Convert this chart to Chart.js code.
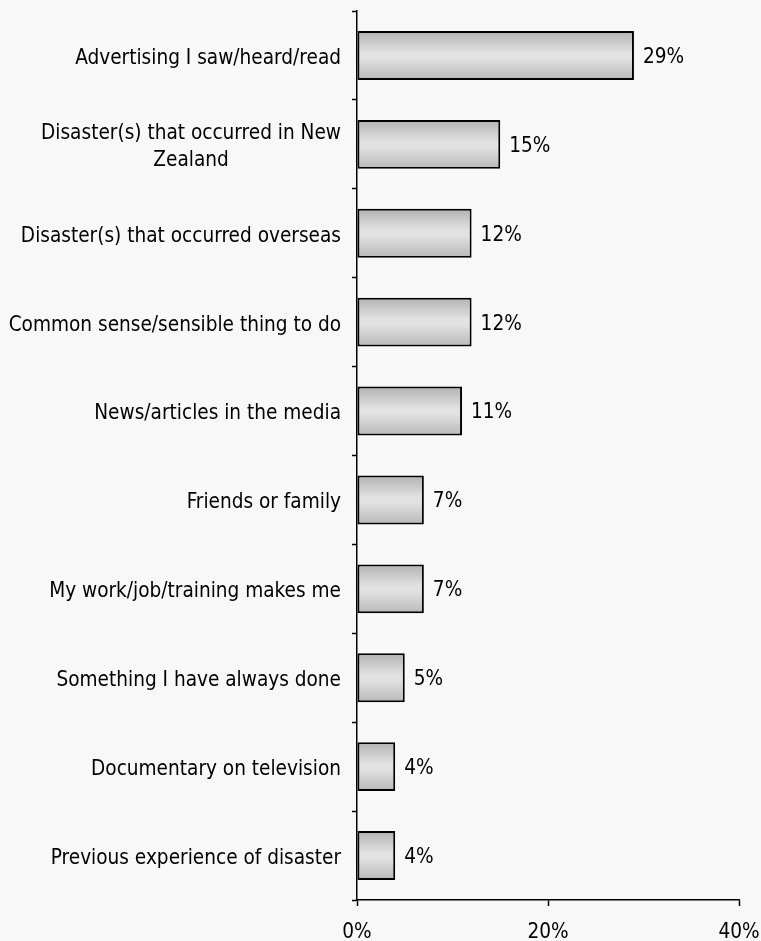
<!DOCTYPE html>
<html>
<head>
<meta charset="utf-8">
<title>Reasons</title>
<script src="https://cdn.jsdelivr.net/npm/chart.js@4.4.1/dist/chart.umd.min.js"></script>
<style>
  html, body { margin: 0; padding: 0; background: #f8f8f8; }
  #wrap { width: 761px; height: 941px; }
</style>
</head>
<body>
<div id="wrap"><canvas id="chart"></canvas></div>
<script>
// reasons and share of respondents (%)
const categories = [
  "Advertising I saw/heard/read",
  ["Disaster(s) that occurred in New", "Zealand"],
  "Disaster(s) that occurred overseas",
  "Common sense/sensible thing to do",
  "News/articles in the media",
  "Friends or family",
  "My work/job/training makes me",
  "Something I have always done",
  "Documentary on television",
  "Previous experience of disaster"
];
const percentages = [29, 15, 12, 12, 11, 7, 7, 5, 4, 4];
const axisTicks = [0, 20, 40];

const FONT = "Tahoma, 'DejaVu Sans Condensed', 'DejaVu Sans', sans-serif";
const FONT_SIZE = 20.6;
const LINE_GAP = 27;
const LABEL_PAD = 11;
const LABEL_SHIFT = 3;
const Y_TICK = 5;
const BAR_PCT = 0.55;

// vertical grey shading across each bar
function barFill(context) {
  const chart = context.chart;
  const yScale = chart.scales.y;
  if (!yScale || !chart.chartArea) return "#d8d8d8";
  const c = yScale.getPixelForValue(context.dataIndex);
  const half = (yScale.height / categories.length) * BAR_PCT / 2;
  const g = chart.ctx.createLinearGradient(0, c - half, 0, c + half);
  g.addColorStop(0, "#b2b2b2");
  g.addColorStop(0.45, "#e2e2e2");
  g.addColorStop(0.55, "#e2e2e2");
  g.addColorStop(1, "#b8b8b8");
  return g;
}

// percentages next to bar ends, and two-line category names centred as a block
const extraText = {
  id: "extraText",
  afterDatasetsDraw(chart) {
    const ctx = chart.ctx;
    const meta = chart.getDatasetMeta(0);
    const yScale = chart.scales.y;
    ctx.save();
    ctx.font = FONT_SIZE + "px " + FONT;
    ctx.fillStyle = "#000";
    ctx.textBaseline = "middle";
    ctx.textAlign = "left";
    meta.data.forEach((bar, i) => {
      ctx.fillText(percentages[i] + "%", bar.x + 9, bar.y + 2);
    });

    const right = yScale.right - Y_TICK - LABEL_PAD;
    categories.forEach((label, i) => {
      if (!Array.isArray(label)) return;
      const widest = Math.max(...label.map(l => ctx.measureText(l).width));
      const cx = right - widest / 2;
      const cy = yScale.getPixelForValue(i) + LABEL_SHIFT;
      const y0 = cy - (label.length - 1) * LINE_GAP / 2;
      ctx.textAlign = "center";
      label.forEach((line, k) => ctx.fillText(line, cx, y0 + k * LINE_GAP));
    });
    ctx.restore();
  }
};

new Chart(document.getElementById("chart"), {
  type: "bar",
  data: {
    labels: categories,
    datasets: [{
      data: percentages,
      backgroundColor: barFill,
      borderColor: "#000",
      borderWidth: 2,
      borderSkipped: false,
      barPercentage: BAR_PCT,
      categoryPercentage: 1
    }]
  },
  options: {
    indexAxis: "y",
    responsive: true,
    maintainAspectRatio: false,
    animation: false,
    layout: { padding: { top: 11, right: 0, left: 0, bottom: 0 } },
    plugins: {
      legend: { display: false },
      tooltip: { enabled: false }
    },
    scales: {
      x: {
        min: 0,
        max: 40,
        afterBuildTicks: (scale) => { scale.ticks = axisTicks.map(v => ({ value: v })); },
        afterFit: (scale) => {
          scale.height = 41;
          scale.paddingLeft = 0;
          scale.paddingRight = 22;
        },
        border: { color: "#000", width: 1.5 },
        grid: { drawOnChartArea: false, drawTicks: true, tickLength: 6, tickColor: "#000", tickWidth: 1.5 },
        ticks: {
          color: "#000",
          padding: 14,
          font: { family: FONT, size: FONT_SIZE },
          callback: (v) => v + "%"
        }
      },
      y: {
        afterFit: (scale) => {
          scale.width = 357;
          scale.paddingTop = 0;
          scale.paddingBottom = 0;
        },
        border: { color: "#000", width: 1.5 },
        grid: { drawOnChartArea: false, drawTicks: true, tickLength: Y_TICK, tickColor: "#000", tickWidth: 1.5, offset: true },
        ticks: {
          color: "#000",
          padding: LABEL_PAD,
          labelOffset: LABEL_SHIFT,
          font: { family: FONT, size: FONT_SIZE },
          // wrapped names are drawn by the extraText plugin
          callback: function (value) {
            const label = this.getLabelForValue(value);
            return Array.isArray(categories[value]) ? "" : label;
          }
        }
      }
    }
  },
  plugins: [extraText]
});
</script>
</body>
</html>
